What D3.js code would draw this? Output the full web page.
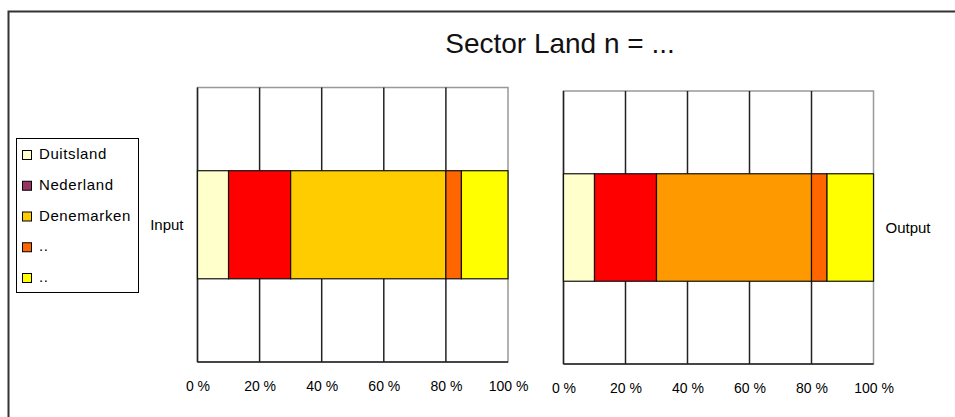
<!DOCTYPE html>
<html>
<head>
<meta charset="utf-8">
<script src="https://cdn.jsdelivr.net/npm/d3@7"></script>
<style>
    body { margin: 0; background: #fff; }
    text { font-family: "Liberation Sans", Arial, sans-serif; fill: #000; }
</style>
</head>
<body>
<script>
(function(){

    //chart data
    var categories = ["Input", "Output"];
    var seriesNames = ["Duitsland", "Nederland", "Denemarken", "..", ".."];
    var inputValues = [10, 20, 50, 5, 15];
    var outputValues = [10, 20, 50, 5, 15];
    var tickValues = [0, 20, 40, 60, 80, 100];
    var legendColors = ["#FFFFCC", "#993366", "#FFCC00", "#FF6600", "#FFFF00"];
    var inputColors = ["#FFFFCC", "#FF0000", "#FFCC00", "#FF6600", "#FFFF00"];
    var outputColors = ["#FFFFCC", "#FF0000", "#FF9900", "#FF6600", "#FFFF00"];
    var title = "Sector Land n = ...";

    var width = 955,
        height = 417;

    var svg = d3.select("body")
        .append("svg")
        .attr("width", width)
        .attr("height", height);

    //outer chart frame
    svg.append("rect")
        .attr("x", 8.5)
        .attr("y", 11.5)
        .attr("width", 960)
        .attr("height", 420)
        .attr("fill", "none")
        .attr("stroke", "#333")
        .attr("stroke-width", 2);

    svg.append("text")
        .attr("x", 560)
        .attr("y", 53)
        .attr("text-anchor", "middle")
        .style("font-size", "28px")
        .style("fill", "#111")
        .text(title);

    //one panel per category
    var panels = [
        {name: categories[0], values: inputValues, colors: inputColors, x0: 197.5, x1: 508, y0: 87.5, y1: 362, labelSide: "left"},
        {name: categories[1], values: outputValues, colors: outputColors, x0: 563.5, x1: 873.5, y0: 91, y1: 364, labelSide: "right"}
    ];

    panels.forEach(function(p){
        var x = d3.scaleLinear()
            .domain([0, 100])
            .range([p.x0, p.x1]);

        var y = d3.scaleBand()
            .domain([p.name])
            .range([p.y0, p.y1])
            .paddingInner(0)
            .paddingOuter(0.77);

        var g = svg.append("g");

        //plot background + gray top/right edge
        g.append("rect")
            .attr("x", p.x0)
            .attr("y", p.y0)
            .attr("width", p.x1 - p.x0)
            .attr("height", p.y1 - p.y0)
            .attr("fill", "#fff")
            .attr("stroke", "#999")
            .attr("stroke-width", 1.5);

        //gridlines
        g.selectAll(".grid")
            .data(tickValues.slice(0, -1))
            .enter()
            .append("line")
            .attr("x1", function(d){ return x(d); })
            .attr("x2", function(d){ return x(d); })
            .attr("y1", p.y0)
            .attr("y2", p.y1)
            .attr("stroke", "#222")
            .attr("stroke-width", 1.5);

        //bottom axis line
        g.append("line")
            .attr("x1", p.x0)
            .attr("x2", p.x1)
            .attr("y1", p.y1)
            .attr("y2", p.y1)
            .attr("stroke", "#222")
            .attr("stroke-width", 1.5);

        //stacked segments
        var stacked = [];
        var cum = 0;
        p.values.forEach(function(v, i){
            stacked.push({start: cum, end: cum + v, color: p.colors[i]});
            cum += v;
        });

        g.selectAll(".seg")
            .data(stacked)
            .enter()
            .append("rect")
            .attr("x", function(d){ return x(d.start); })
            .attr("width", function(d){ return x(d.end) - x(d.start); })
            .attr("y", y(p.name))
            .attr("height", y.bandwidth())
            .attr("fill", function(d){ return d.color; })
            .attr("stroke", "#111")
            .attr("stroke-width", 1.2);

        //tick labels
        var axis = d3.axisBottom(x)
            .tickValues(tickValues)
            .tickSize(0)
            .tickPadding(0)
            .tickFormat(function(d){ return d + " %"; });

        var ax = g.append("g")
            .attr("transform", "translate(0," + (p.y1 + 19) + ")")
            .call(axis);
        ax.select(".domain").remove();
        ax.selectAll("text")
            .style("font-size", "14px")
            .style("font-family", "'Liberation Sans', Arial, sans-serif")
            .attr("fill", "#000");

        //category label
        g.append("text")
            .attr("x", p.labelSide == "left" ? p.x0 - 14 : p.x1 + 12)
            .attr("y", y(p.name) + y.bandwidth() / 2 + 5)
            .attr("text-anchor", p.labelSide == "left" ? "end" : "start")
            .style("font-size", "15px")
            .text(p.name);
    });

    //legend
    var legend = svg.append("g");
    legend.append("rect")
        .attr("x", 16.5)
        .attr("y", 138.5)
        .attr("width", 122)
        .attr("height", 154)
        .attr("fill", "#fff")
        .attr("stroke", "#000");

    var ly = d3.scalePoint()
        .domain(d3.range(seriesNames.length))
        .range([155, 278]);

    var items = legend.selectAll(".item")
        .data(seriesNames)
        .enter()
        .append("g");

    items.append("rect")
        .attr("x", 22.5)
        .attr("y", function(d, i){ return ly(i) - 4.5; })
        .attr("width", 9)
        .attr("height", 9)
        .attr("fill", function(d, i){ return legendColors[i]; })
        .attr("stroke", "#000");

    items.append("text")
        .attr("x", 39)
        .attr("y", function(d, i){ return ly(i) + 4; })
        .style("font-size", "15px")
        .style("letter-spacing", "0.6px")
        .text(function(d){ return d; });

})();
</script>
</body>
</html>
